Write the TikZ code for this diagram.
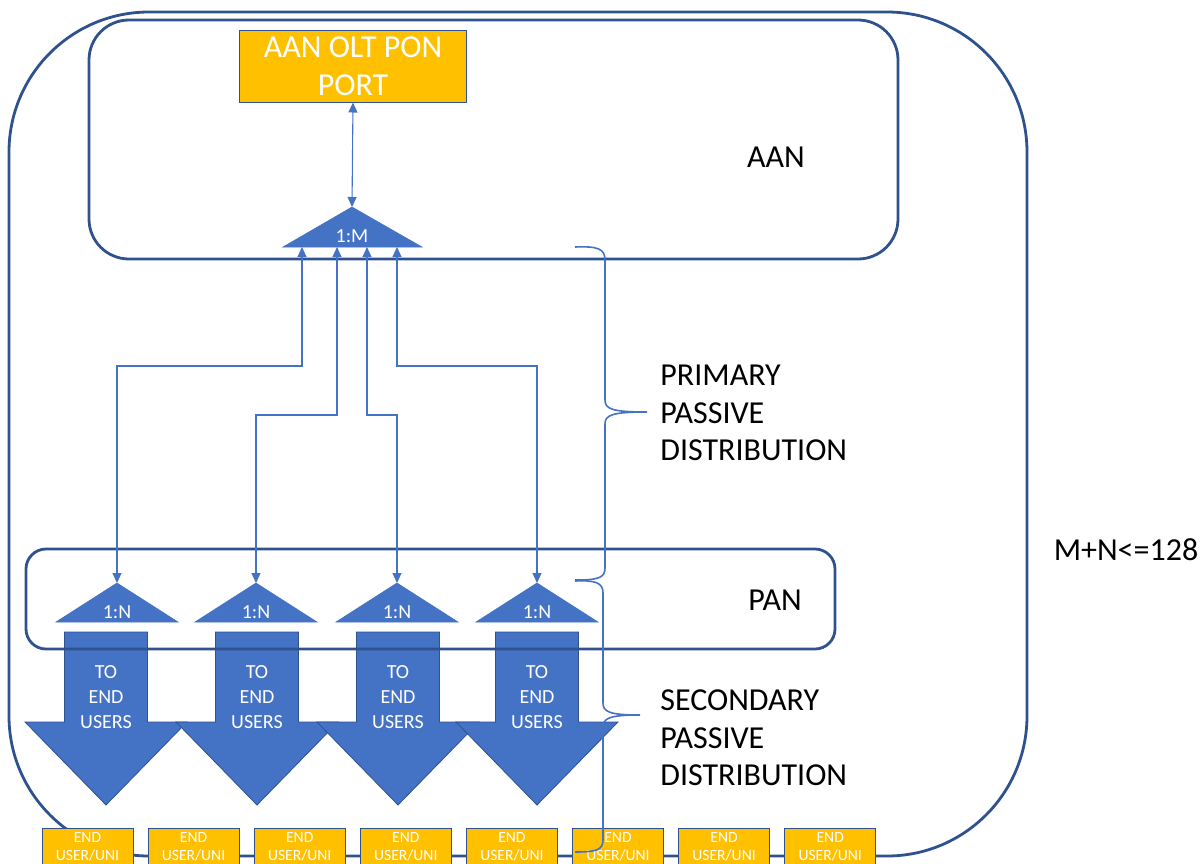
\documentclass[tikz,border=0pt]{standalone}
\usepackage{fontspec}
\setmainfont{Carlito}
\usetikzlibrary{arrows.meta}
\definecolor{accent}{RGB}{68,114,196}
\definecolor{darkline}{RGB}{47,82,143}
\definecolor{gold}{RGB}{255,192,0}
\begin{document}
\begin{tikzpicture}[x=0.5pt,y=-0.5pt,
  frame/.style={draw=darkline, line width=1.4pt},
  conn/.style={draw=accent, line width=0.55pt, {Triangle[length=5pt,width=4.5pt]}-{Triangle[length=5pt,width=4.5pt]}},
  splitter/.style={fill=accent, draw=accent, line width=0.3pt},
  downarrow/.style={fill=accent, draw=darkline, line width=0.4pt},
  bracepath/.style={draw=accent, line width=0.8pt},
  bigtext/.style={font=\fontsize{16}{18.75}\selectfont, text=black, align=left, inner sep=0pt},
  portbox/.style={fill=gold, draw=darkline, line width=0.5pt, minimum width=113.5pt, minimum height=36pt, inner sep=0pt, text=white, align=center, font=\fontsize{16}{19}\selectfont},
  splitlabel/.style={text=white, font=\fontsize{10}{12}\selectfont, inner sep=0pt},
  arrowtext/.style={text=white, align=center, font=\fontsize{10}{12.5}\selectfont, inner sep=0pt},
  userbox/.style={fill=gold, draw=darkline, line width=0.5pt, minimum width=45.5pt, minimum height=26pt, inner sep=0pt},
  usertext/.style={text=white, align=center, font=\fontsize{7.8}{9}\selectfont, inner sep=0pt}
]
\useasboundingbox (0,0) rectangle (1200,863);
\clip (0,0) rectangle (1200,863);

% outer frame
\draw[frame, rounded corners=70pt] (9,12) rectangle (1027,856);
% AAN frame
\draw[frame, rounded corners=20pt] (89,20) rectangle (898,259);

% port box
\node[portbox] (port) at (353,66) {AAN OLT PON\\PORT};

% 1:M splitter
\coordinate (mapex) at (352,207);
\filldraw[splitter] (mapex) -- (422,247) -- (283,247) -- cycle;
\node[splitlabel] (mlab) at (352,236) {1:M};
\coordinate (mb1) at (302,247);
\coordinate (mb2) at (337,247);
\coordinate (mb3) at (367,247);
\coordinate (mb4) at (397,247);

% down arrows
\foreach \c/\i in {106/1,257/2,398/3,537/4} {
  \filldraw[downarrow] (\c-41.5,632) -- (\c+41.5,632) -- (\c+41.5,722) -- (\c+81,722)
     -- (\c,805) -- (\c-81,722) -- (\c-41.5,722) -- cycle;
  \node[arrowtext] (d\i) at (\c,697) {TO\\END\\USERS};
}

% PAN frame
\draw[frame, rounded corners=10pt] (26,549) rectangle (835,649);

% 1:N splitters
\foreach \c/\i in {117/1,256/2,397/3,537/4} {
  \coordinate (n\i) at (\c,583);
  \filldraw[splitter] (n\i) -- (\c+61,622) -- (\c-61,622) -- cycle;
  \node[splitlabel] (nlab\i) at (\c,612) {1:N};
}

% connectors
\draw[conn] (port.south) -- (mapex);
\draw[conn] (mb1) -- (302,366) -| (n1);
\draw[conn] (mb2) -- (337,415) -| (n2);
\draw[conn] (mb3) -- (367,415) -| (n3);
\draw[conn] (mb4) -- (397,366) -| (n4);

% end user boxes
\foreach \i in {0,...,7} {
  \node[userbox] (u\i) at ({87.5+106.1*\i},854) {};
  \node[usertext] (ut\i) at ({87.5+106.1*\i},847) {END\\USER/UNI};
}

% braces
\draw[bracepath] (575,247) .. controls (598,246) and (605,249) .. (605,260)
  -- (605,400) .. controls (605,409) and (612,412) .. (647,412)
  .. controls (612,412) and (605,415) .. (605,424)
  -- (605,568) .. controls (605,578) and (598,580) .. (575,580);
\draw[bracepath] (575,581) .. controls (596,580) and (603,583) .. (603,593)
  -- (603,703) .. controls (603,712) and (610,715) .. (640,715)
  .. controls (610,715) and (603,718) .. (603,727)
  -- (603,840) .. controls (603,850) and (596,852) .. (575,852);

% labels
\node[bigtext] (aan) at (776,157) {AAN};
\node[bigtext, anchor=west] (prim) at (660,413) {PRIMARY\\PASSIVE\\DISTRIBUTION};
\node[bigtext] (pan) at (775,600) {PAN};
\node[bigtext, anchor=west] (sec) at (660,738) {SECONDARY\\PASSIVE\\DISTRIBUTION};
\node[bigtext] (mn) at (1126,550) {M+N<=128};
\end{tikzpicture}
\end{document}
